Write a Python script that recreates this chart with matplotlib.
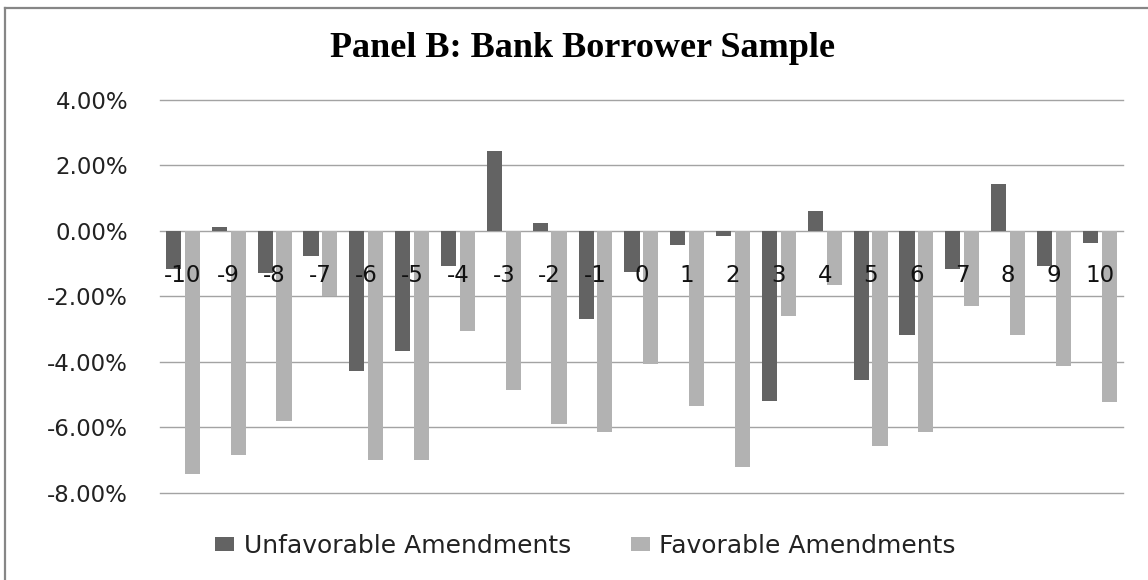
import numpy as np
import matplotlib
matplotlib.use("Agg")
import matplotlib.pyplot as plt
from matplotlib.patches import Patch
from matplotlib.lines import Line2D

# ---- data (percent) ----
event_days = ["-10", "-9", "-8", "-7", "-6", "-5", "-4", "-3", "-2", "-1", "0",
              "1", "2", "3", "4", "5", "6", "7", "8", "9", "10"]
unfavorable = [-1.15, 0.12, -1.30, -0.76, -4.29, -3.67, -1.08, 2.45, 0.24, -2.68, -1.27,
               -0.44, -0.16, -5.20, 0.60, -4.57, -3.19, -1.15, 1.43, -1.08, -0.37]
favorable = [-7.44, -6.84, -5.82, -2.00, -6.99, -7.00, -3.07, -4.87, -5.89, -6.13, -4.06,
             -5.35, -7.20, -2.61, -1.66, -6.56, -6.13, -2.29, -3.19, -4.13, -5.24]
y_ticks = [4, 2, 0, -2, -4, -6, -8]
series_names = ["Unfavorable Amendments", "Favorable Amendments"]
title = "Panel B: Bank Borrower Sample"

W, H = 1148, 580
fig = plt.figure(figsize=(W / 100, H / 100), dpi=100)
fig.patch.set_facecolor("white")

left, right = 160 / W, 1122.7 / W
bottom, top = 1 - 492.7 / H, 1 - 100 / H
ax = fig.add_axes([left, bottom, right - left, top - bottom])

dark = "#636363"
light = "#b2b2b2"
grid_c = "#a3a3a3"

x = np.arange(len(event_days))
bw = 0.33
off = 0.205
ax.bar(x - off, unfavorable, width=bw, color=dark, zorder=2)
ax.bar(x + off, favorable, width=bw, color=light, zorder=2)

ax.set_xlim(-0.5, len(event_days) - 0.5)
ax.set_ylim(-8, 4)
ax.set_yticks(y_ticks)
ax.set_yticklabels([f"{v:.2f}%" for v in y_ticks], fontsize=16.5, color="#222222")
ax.tick_params(axis="y", length=0, pad=23)
ax.set_xticks([])
for v in y_ticks:
    ax.axhline(v, color=grid_c, lw=1.0, zorder=1, clip_on=False)
for s in ax.spines.values():
    s.set_visible(False)

# category labels drawn next to the zero line (Excel style)
for i, lab in enumerate(event_days):
    ax.text(i, -1.55, lab, ha="center", va="baseline", fontsize=16.5,
            color="#111111", zorder=5)

# title
fig.text(582 / W, 1 - 57.3 / H, title, ha="center", va="baseline",
         fontsize=26, fontweight="bold", family="Liberation Serif", color="black")

# legend
handles = [Patch(facecolor=dark, edgecolor="none"), Patch(facecolor=light, edgecolor="none")]
fig.legend(handles, series_names, loc="center", bbox_to_anchor=(585.5 / W, 1 - 546 / H),
           ncol=2, frameon=False, fontsize=18, handlelength=0.76, handleheight=0.52,
           handletextpad=0.37, columnspacing=2.4, labelcolor="#222222")

# outer frame (top and left edges visible)
fig.add_artist(Line2D([5 / W, 5 / W], [0, 1 - 8.3 / H], transform=fig.transFigure,
                      color="#868686", lw=1.6))
fig.add_artist(Line2D([5 / W, 1], [1 - 8.3 / H, 1 - 8.3 / H], transform=fig.transFigure,
                      color="#868686", lw=1.6))

fig.savefig("out.png", dpi=100, facecolor="white")
